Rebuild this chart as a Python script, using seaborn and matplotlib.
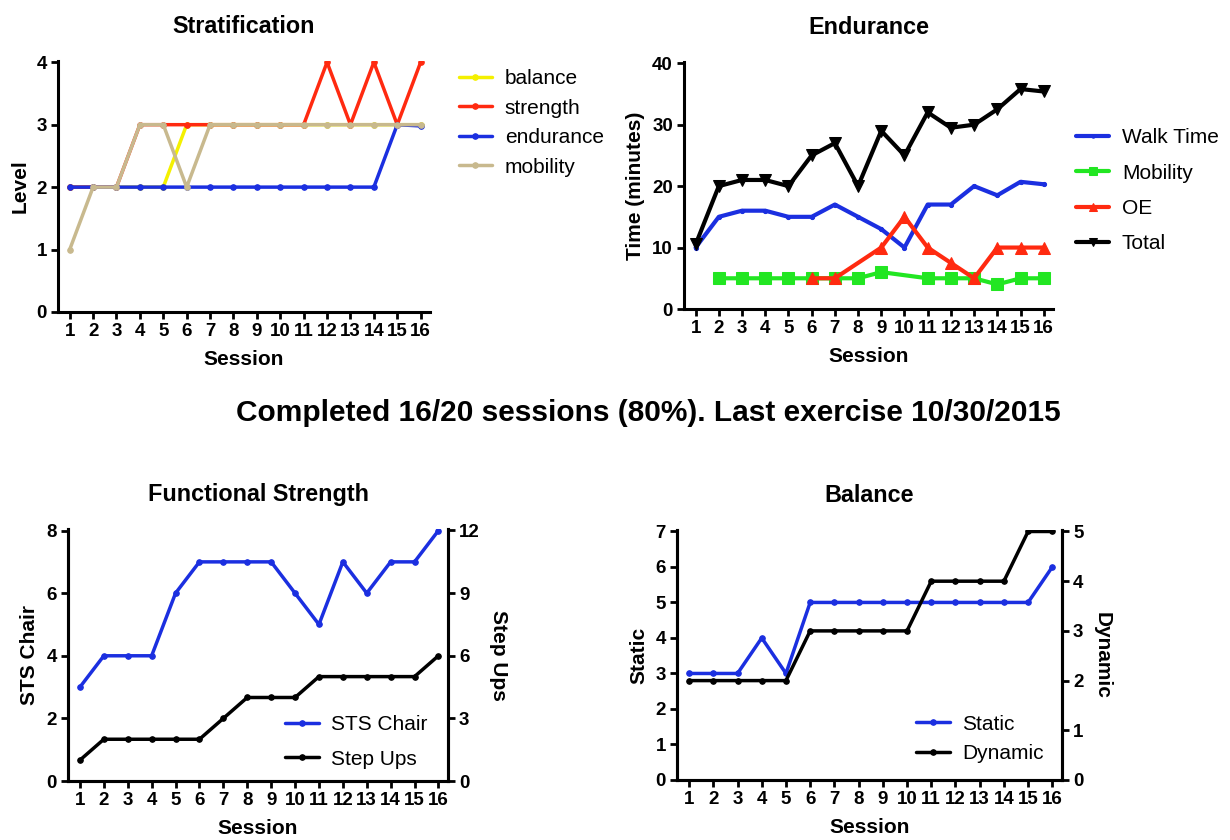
import numpy as np
import pandas as pd
import matplotlib
matplotlib.use("Agg")
import matplotlib.pyplot as plt
import seaborn as sns

# ---- data -------------------------------------------------------------
sessions = list(range(1, 17))

# Stratification levels
balance_lvl = [2, 2, 2, 2, 2, 3, 3, 3, 3, 3, 3, 3, 3, 3, 3, 3]
strength_lvl = [2, 2, 2, 3, 3, 3, 3, 3, 3, 3, 3, 4, 3, 4, 3, 4]
endurance_lvl = [2, 2, 2, 2, 2, 2, 2, 2, 2, 2, 2, 2, 2, 2, 3, 2.98]
mobility_lvl = [1, 2, 2, 3, 3, 2, 3, 3, 3, 3, 3, 3, 3, 3, 3, 3]

# Endurance (minutes)
walk_time = [10, 15, 16, 16, 15, 15, 17, 15, 13, 10, 17, 17, 20, 18.5, 20.7, 20.3]
mobility_min = [np.nan, 5, 5, 5, 5, 5, 5, 5, 6, np.nan, 5, 5, 5, 4, 5, 5]
oe_min = [np.nan, np.nan, np.nan, np.nan, np.nan, 5, 5, np.nan, 10, 15, 10, 7.5, 5, 10, 10, 10]
total_min = [10.5, 20, 21, 21, 20, 25, 27, 20, 29, 25, 32, 29.5, 30, 32.5, 35.8, 35.4]

# Functional strength
sts_chair = [3, 4, 4, 4, 6, 7, 7, 7, 7, 6, 5, 7, 6, 7, 7, 8]
step_ups = [1, 2, 2, 2, 2, 2, 3, 4, 4, 4, 5, 5, 5, 5, 5, 6]

# Balance
static_bal = [3, 3, 3, 4, 3, 5, 5, 5, 5, 5, 5, 5, 5, 5, 5, 6]
dynamic_bal = [2, 2, 2, 2, 2, 3, 3, 3, 3, 3, 4, 4, 4, 4, 5, 5]

summary = "Completed 16/20 sessions (80%). Last exercise 10/30/2015"

# ---- style ------------------------------------------------------------
sns.set_style("ticks")
plt.rcParams["font.family"] = ["Liberation Sans", "DejaVu Sans"]
plt.rcParams.update({
    "axes.linewidth": 2.2,
    "axes.edgecolor": "black",
    "axes.labelcolor": "black",
    "text.color": "black",
    "xtick.color": "black",
    "ytick.color": "black",
    "xtick.major.width": 2.0,
    "ytick.major.width": 2.0,
    "xtick.major.size": 5,
    "ytick.major.size": 5,
})

YELLOW = "#f4f000"
RED = "#ff2a10"
BLUE = "#1b2fe0"
TAN = "#c8b98e"
GREEN = "#22e622"
BLACK = "#000000"

TICK_FS = 13.5
LABEL_FS = 15
TITLE_FS = 16.8
LEG_FS = 15

fig = plt.figure(figsize=(12.3, 8.4), dpi=100)
W, H = 1230, 840


def px_axes(left, top, right, bottom):
    return fig.add_axes([left / W, 1 - bottom / H, (right - left) / W, (bottom - top) / H])


def line(ax, y, color, label, marker="o", ms=4, lw=2.5):
    df = pd.DataFrame({"Session": sessions, "v": y}).dropna()
    sns.lineplot(data=df, x="Session", y="v", ax=ax, color=color, label=label,
                 marker=marker, markersize=ms, markeredgecolor=color,
                 markerfacecolor=color, linewidth=lw, legend=False)


def style_axes(ax, ylabel, yticks, ylim, right=False):
    ax.set_xlim(0.5, 16.4)
    ax.set_xticks(sessions)
    ax.set_xticklabels([str(s) for s in sessions], fontsize=TICK_FS, fontweight="bold")
    ax.set_ylim(*ylim)
    ax.set_yticks(yticks)
    ax.set_yticklabels([str(t) for t in yticks], fontsize=TICK_FS, fontweight="bold")
    ax.set_xlabel("Session", fontsize=LABEL_FS, fontweight="bold", labelpad=7)
    ax.set_ylabel(ylabel, fontsize=LABEL_FS, fontweight="bold", labelpad=5)
    ax.tick_params(axis="both", pad=3)
    ax.spines["top"].set_visible(False)
    if not right:
        ax.spines["right"].set_visible(False)


def legend(ax, h, l, **kw):
    leg = ax.legend(h, l, frameon=False, fontsize=LEG_FS, handlelength=1.6,
                    handletextpad=0.6, borderaxespad=0, **kw)
    return leg


# ---- Stratification ---------------------------------------------------
ax1 = px_axes(58, 61, 430, 312)
line(ax1, balance_lvl, YELLOW, "balance")
line(ax1, strength_lvl, RED, "strength")
line(ax1, endurance_lvl, BLUE, "endurance")
line(ax1, mobility_lvl, TAN, "mobility")
style_axes(ax1, "Level", [0, 1, 2, 3, 4], (0, 4.02))
ax1.set_title("Stratification", fontsize=TITLE_FS, fontweight="bold", pad=20)
h, l = ax1.get_legend_handles_labels()
legend(ax1, h, l, loc="upper left", bbox_to_anchor=(1.055, 1.0), labelspacing=0.5)

# ---- Endurance --------------------------------------------------------
ax2 = px_axes(684, 62, 1053, 309)
line(ax2, walk_time, BLUE, "Walk Time", marker="o", ms=3, lw=3)
line(ax2, mobility_min, GREEN, "Mobility", marker="s", ms=8, lw=3)
line(ax2, oe_min, RED, "OE", marker="^", ms=8, lw=3)
line(ax2, total_min, BLACK, "Total", marker="v", ms=8, lw=3)
style_axes(ax2, "Time (minutes)", [0, 10, 20, 30, 40], (0, 40.2))
ax2.set_title("Endurance", fontsize=TITLE_FS, fontweight="bold", pad=20)
h, l = ax2.get_legend_handles_labels()
legend(ax2, h, l, loc="upper left", bbox_to_anchor=(1.04, 0.765), labelspacing=0.78,
       markerscale=0.8)

# ---- Functional Strength ----------------------------------------------
ax3 = px_axes(68, 529, 448, 781)
line(ax3, sts_chair, BLUE, "STS Chair", ms=4, lw=2.5)
style_axes(ax3, "STS Chair", [0, 2, 4, 6, 8], (0, 8.05), right=True)
ax3.set_title("Functional Strength", fontsize=TITLE_FS, fontweight="bold", pad=20)
ax3b = ax3.twinx()
line(ax3b, step_ups, BLACK, "Step Ups", ms=4, lw=2.5)
ax3b.set_ylim(0, 12.07)
ax3b.set_yticks([0, 3, 6, 9, 12])
ax3b.set_yticklabels(["0", "3", "6", "9", "12"], fontsize=TICK_FS, fontweight="bold")
ax3b.set_ylabel("Step Ups", fontsize=LABEL_FS, fontweight="bold", rotation=-90, labelpad=20)
ax3b.spines["top"].set_visible(False)
ax3b.tick_params(axis="y", pad=3)
h = ax3.get_legend_handles_labels()[0] + ax3b.get_legend_handles_labels()[0]
l = ax3.get_legend_handles_labels()[1] + ax3b.get_legend_handles_labels()[1]
legend(ax3b, h, l, loc="upper left", bbox_to_anchor=(0.55, 0.295), labelspacing=0.75)

# ---- Balance ----------------------------------------------------------
ax4 = px_axes(677, 530, 1062, 780)
line(ax4, static_bal, BLUE, "Static", ms=4, lw=2.5)
style_axes(ax4, "Static", [0, 1, 2, 3, 4, 5, 6, 7], (0, 7.04), right=True)
ax4.set_title("Balance", fontsize=TITLE_FS, fontweight="bold", pad=20)
ax4b = ax4.twinx()
line(ax4b, dynamic_bal, BLACK, "Dynamic", ms=4, lw=2.5)
ax4b.set_ylim(0, 5.03)
ax4b.set_yticks([0, 1, 2, 3, 4, 5])
ax4b.set_yticklabels([str(t) for t in range(6)], fontsize=TICK_FS, fontweight="bold")
ax4b.set_ylabel("Dynamic", fontsize=LABEL_FS, fontweight="bold", rotation=-90, labelpad=20)
ax4b.spines["top"].set_visible(False)
ax4b.tick_params(axis="y", pad=3)
h = ax4.get_legend_handles_labels()[0] + ax4b.get_legend_handles_labels()[0]
l = ax4.get_legend_handles_labels()[1] + ax4b.get_legend_handles_labels()[1]
legend(ax4b, h, l, loc="upper left", bbox_to_anchor=(0.6, 0.295), labelspacing=0.5)

fig.text(648 / W, 1 - 413 / H, summary, ha="center", va="center",
         fontsize=21.5, fontweight="bold")

fig.savefig("out.png", dpi=100, facecolor="white")
